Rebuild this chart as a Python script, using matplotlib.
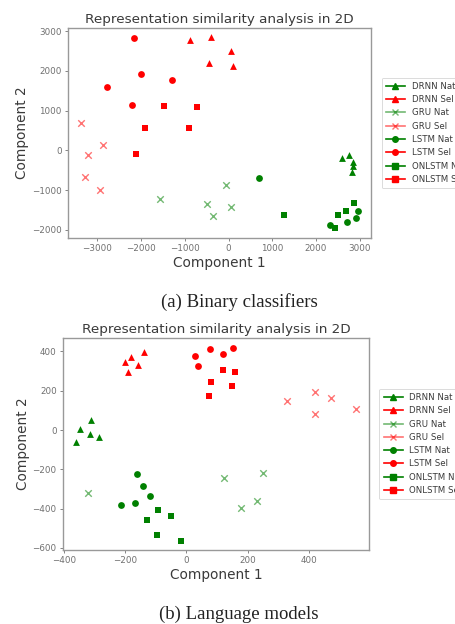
import numpy as np
import matplotlib
matplotlib.use("Agg")
import matplotlib.pyplot as plt
from matplotlib.lines import Line2D

# === DATA ===
SERIES = ["DRNN Nat", "DRNN Sel", "GRU Nat", "GRU Sel",
          "LSTM Nat", "LSTM Sel", "ONLSTM Nat", "ONLSTM Sel"]

# (a) binary classifiers
bin_drnn_nat = [(2588, -202), (2763, -118), (2840, -286), (2840, -395), (2832, -538)]
bin_drnn_sel = [(-885, 2782), (-405, 2849), (46, 2487), (-443, 2193), (92, 2126)]
bin_gru_nat = [(-1565, -1235), (-69, -874), (-481, -1353), (61, -1420), (-344, -1655)]
bin_gru_sel = [(-3366, 689), (-2878, 134), (-3214, -118), (-3290, -664), (-2931, -1000)]
bin_lstm_nat = [(695, -689), (2969, -1529), (2916, -1697), (2702, -1815), (2321, -1882)]
bin_lstm_sel = [(-2153, 2832), (-2008, 1916), (-1282, 1773), (-2779, 1597), (-2214, 1134)]
bin_onlstm_nat = [(1260, -1639), (2878, -1336), (2687, -1529), (2496, -1630), (2435, -1950)]
bin_onlstm_sel = [(-1466, 1109), (-718, 1092), (-1908, 563), (-893, 563), (-2107, -101)]

# (b) language models
lm_drnn_nat = [(-312, 51), (-347, 3), (-314, -20), (-285, -34), (-359, -61)]
lm_drnn_sel = [(-201, 347), (-180, 373), (-138, 395), (-158, 332), (-189, 293)]
lm_gru_nat = [(-320, -322), (124, -246), (249, -219), (180, -395), (230, -361)]
lm_gru_sel = [(328, 150), (420, 192), (471, 165), (554, 105), (420, 83)]
lm_lstm_nat = [(-162, -224), (-140, -285), (-119, -337), (-212, -381), (-168, -371)]
lm_lstm_sel = [(27, 374), (78, 411), (120, 386), (153, 417), (38, 325)]
lm_onlstm_nat = [(-91, -406), (-49, -437), (-128, -457), (-97, -536), (-16, -563)]
lm_onlstm_sel = [(119, 305), (159, 293), (82, 246), (150, 223), (73, 175)]

BIN = [bin_drnn_nat, bin_drnn_sel, bin_gru_nat, bin_gru_sel,
       bin_lstm_nat, bin_lstm_sel, bin_onlstm_nat, bin_onlstm_sel]
LM = [lm_drnn_nat, lm_drnn_sel, lm_gru_nat, lm_gru_sel,
      lm_lstm_nat, lm_lstm_sel, lm_onlstm_nat, lm_onlstm_sel]

MARKERS = {"DRNN": "^", "GRU": "x", "LSTM": "o", "ONLSTM": "s"}
COLORS = {"Nat": "green", "Sel": "red"}

TEXT = "#3a3a3a"
TICK = "#707070"


def draw_panel(ax, groups, xlim, ylim, xticks, yticks):
    handles = []
    for name, pts in zip(SERIES, groups):
        model, kind = name.split()
        m = MARKERS[model]
        c = COLORS[kind]
        alpha = 0.55 if model == "GRU" else 1.0
        pts = np.array(pts, dtype=float)
        if m == "x":
            ax.scatter(pts[:, 0], pts[:, 1], marker=m, c=c, s=22, lw=1.0, alpha=alpha)
        else:
            ax.scatter(pts[:, 0], pts[:, 1], marker=m, c=c, s=24, lw=0, alpha=alpha)
        handles.append(Line2D([], [], color=c, marker=m, ms=4, lw=1.2, alpha=alpha,
                              label=name))
    ax.set_xlim(*xlim)
    ax.set_ylim(*ylim)
    ax.set_xticks(xticks)
    ax.set_yticks(yticks)
    ax.tick_params(labelsize=6.3, colors=TICK, length=2.5, width=0.6, pad=2)
    for sp in ax.spines.values():
        sp.set_color("#999999")
        sp.set_linewidth(1.0)
    ax.set_title("Representation similarity analysis in 2D", fontsize=9.7, color=TEXT, pad=4)
    ax.set_xlabel("Component 1", fontsize=9.8, color=TEXT, labelpad=2)
    ax.set_ylabel("Component 2", fontsize=9.8, color=TEXT, labelpad=2)
    leg = ax.legend(handles=handles, loc="center left", bbox_to_anchor=(1.02, 0.5),
                    fontsize=6.2, labelspacing=0.5, handlelength=2.2,
                    frameon=True, borderpad=0.5)
    leg.get_frame().set_edgecolor("#cccccc")
    leg.get_frame().set_linewidth(0.6)
    for t in leg.get_texts():
        t.set_color(TEXT)


fig = plt.figure(figsize=(4.56, 6.24), dpi=100)

ax1 = fig.add_axes([0.149, 0.619, 0.665, 0.336])
draw_panel(ax1, BIN, (-3670, 3260), (-2200, 3075),
           [-3000, -2000, -1000, 0, 1000, 2000, 3000],
           [-2000, -1000, 0, 1000, 2000, 3000])

ax2 = fig.add_axes([0.138, 0.119, 0.671, 0.339])
draw_panel(ax2, LM, (-403, 596), (-609, 467),
           [-400, -200, 0, 200, 400],
           [-600, -400, -200, 0, 200, 400])

fig.text(0.524, 1 - 302 / 624, "(a) Binary classifiers", ha="center", va="center",
         fontsize=13.5, family="Liberation Serif", color="#222222")
fig.text(0.524, 1 - 614 / 624, "(b) Language models", ha="center", va="center",
         fontsize=13.5, family="Liberation Serif", color="#222222")

fig.savefig("out.png", dpi=100)
